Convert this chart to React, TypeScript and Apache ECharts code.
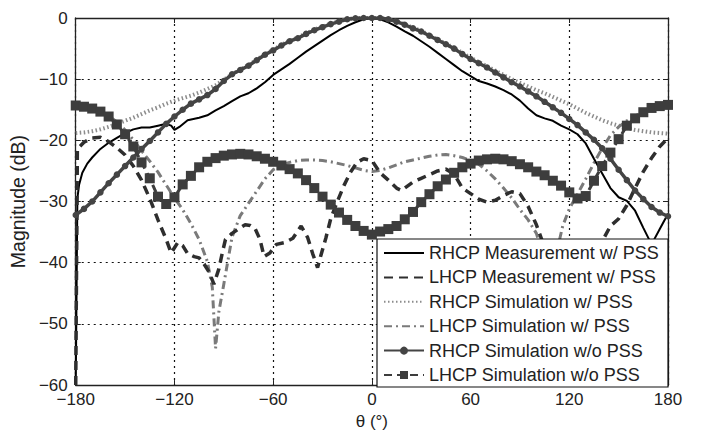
import React, { useEffect, useRef } from "react";
import * as echarts from "echarts";

// ---- data ----
const seriesNames = [
  "RHCP Measurement w/ PSS",
  "LHCP Measurement w/ PSS",
  "RHCP Simulation w/ PSS",
  "LHCP Simulation w/ PSS",
  "RHCP Simulation w/o PSS",
  "LHCP Simulation w/o PSS",
];

const theta5 = [
  -180, -175, -170, -165, -160, -155, -150, -145, -140, -135, -130, -125, -120, -115, -110, -105, -100,
  -95, -90, -85, -80, -75, -70, -65, -60, -55, -50, -45, -40, -35, -30, -25, -20, -15, -10, -5, 0,
  5, 10, 15, 20, 25, 30, 35, 40, 45, 50, 55, 60, 65, 70, 75, 80, 85, 90, 95, 100, 105, 110, 115,
  120, 125, 130, 135, 140, 145, 150, 155, 160, 165, 170, 175, 180,
];

const rhcpMeasTheta = [
  -180, -179, -178, -176, -173, -170, -165, -160, -155, -150, -145, -140, -135, -130, -125, -122, -120,
  -117, -112, -105, -100, -95, -90, -85, -80, -75, -70, -65, -60, -55, -50, -45, -40, -35, -30, -25,
  -20, -15, -10, -5, 0, 5, 10, 15, 20, 25, 30, 35, 40, 45, 50, 55, 60, 65, 70, 75, 80, 85, 90, 95,
  100, 105, 110, 115, 120, 125, 130, 135, 140, 145, 150, 155, 160, 165, 170, 175, 180,
];
const rhcpMeas = [
  -60, -29.5, -27.3, -25.3, -23.8, -22.8, -21.4, -20.4, -19.6, -18.8, -18.2, -17.9, -17.9, -17.6,
  -17.3, -17.6, -18.3, -17.8, -16.7, -16.3, -15.9, -15.1, -14.4, -13.6, -12.8, -12.3, -11.5, -10.5,
  -9.3, -8.4, -7.5, -6.5, -5.5, -4.6, -3.7, -2.8, -2, -1.3, -0.7, -0.2, 0, -0.2, -0.7, -1.4, -2.2,
  -2.9, -3.8, -4.7, -5.7, -6.7, -7.7, -8.7, -9.5, -10.3, -10.7, -11.2, -11.8, -12.5, -13.5, -14.8,
  -15.9, -16.4, -16.8, -17.6, -18.2, -19, -20.5, -23, -25.4, -27.8, -29.3, -29.9, -31.5, -34.3, -37,
  -34.5, -32,
];

const lhcpMeasTheta = [
  -180, -179, -175, -170, -165, -160, -155, -150, -145, -140, -135, -130, -125, -122, -118, -115, -112,
  -108, -105, -102, -99, -96, -93, -91, -89, -85, -80, -77, -74, -71, -68, -65.5, -62, -58, -53, -48,
  -43, -39, -36, -33, -31, -28, -25, -21, -17, -13, -9, -5, 0, 5, 10, 15, 18, 20, 25, 30, 35, 40, 45,
  50, 55, 60, 65, 70, 75, 80, 85, 90, 95, 100, 105, 110, 115, 120, 125, 130, 135, 140, 145, 150, 155,
  160, 165, 170, 175, 179,
];
const lhcpMeas = [
  -60, -21.4, -20.3, -19.6, -19.5, -20.2, -21.2, -22.4, -24.2, -26.5, -29.5, -33, -36.2, -38.4, -36.7,
  -37.2, -38.5, -39, -39.2, -40.2, -41.5, -43.5, -41, -38.5, -36.2, -35.2, -34.3, -33.8, -33.9, -34.4,
  -36.2, -39, -38.4, -37, -36.7, -36, -34, -35.9, -38.5, -40.8, -38.8, -36, -32.8, -30, -27.4, -25.2,
  -23.6, -23, -23.3, -25.3, -26.5, -27.8, -28.2, -27.8, -26.8, -26.2, -25.6, -25, -24.7, -25.5, -27.8,
  -28.7, -29.6, -30.1, -29.8, -29, -28.4, -28.7, -30.8, -33.8, -37.5, -40, -38, -41, -39, -42, -36.5,
  -36.5, -34, -32.8, -30.6, -27.8, -25.1, -22.9, -21, -19.9,
];

const rhcpSimPss = [
  -18.8, -18.7, -18.5, -18.2, -17.8, -17.3, -16.8, -16.3, -15.7, -15.1, -14.6, -14, -13.5, -13.1,
  -12.7, -12.2, -11.6, -11, -10.1, -9.2, -8.4, -7.7, -6.8, -5.9, -5.2, -4.4, -3.7, -3.2, -2.5, -1.9,
  -1.4, -0.9, -0.5, -0.2, 0, 0, 0, 0, -0.2, -0.5, -1, -1.6, -2.1, -2.8, -3.5, -4.2, -4.9, -5.7, -6.5,
  -7.2, -7.9, -8.6, -9.3, -10, -10.6, -11.2, -11.8, -12.3, -12.9, -13.5, -14.1, -14.8, -15.5, -16.1,
  -16.7, -17.2, -17.6, -18, -18.3, -18.5, -18.7, -18.8, -18.9,
];

const lhcpSimPssTheta = [
  -180, -175, -170, -165, -160, -155, -150, -145, -140, -135, -130, -125, -120, -115, -110, -105, -100,
  -97, -95, -93, -90, -85, -80, -75, -70, -65, -60, -55, -50, -45, -40, -35, -30, -25, -20, -15, -10,
  -5, 0, 5, 10, 15, 20, 25, 30, 35, 40, 45, 50, 55, 60, 65, 70, 75, 80, 85, 90, 95, 100, 103, 106,
  108, 110, 113, 116, 120, 125, 130, 135, 140, 145, 150, 155, 160, 165, 170, 175, 180,
];
const lhcpSimPss = [
  -14.2, -14.4, -14.8, -15.3, -16, -17, -18.3, -19.9, -21.7, -23.4, -25.2, -27.3, -29.4, -31.3, -33.6,
  -36.2, -39.8, -44, -54, -48, -43.5, -35.8, -32.3, -30.3, -28.3, -26.3, -24.8, -24, -23.6, -23.3,
  -23.2, -23.2, -23.3, -23.5, -23.8, -24.1, -24.5, -24.9, -25.1, -24.9, -24.5, -24, -23.5, -23.2,
  -22.9, -22.6, -22.4, -22.3, -22.5, -22.8, -23.3, -23.9, -25, -26.3, -27.8, -29.4, -31.3, -33, -35.2,
  -38, -44, -50, -44, -37.5, -34, -31.2, -28.8, -26.3, -23.7, -21.3, -19.2, -17.8, -16.8, -16, -15.4,
  -14.8, -14.4, -14.2,
];

const rhcpSimNoPss = [
  -32.2, -31.2, -30, -28.5, -27, -25.6, -24.2, -22.8, -21.4, -20.1, -18.7, -17.3, -16.1, -15, -14,
  -13.3, -12.6, -11.6, -10.3, -9.2, -8.5, -7.8, -6.9, -6, -5.3, -4.5, -3.8, -3.3, -2.6, -2, -1.5, -1,
  -0.6, -0.2, -0.05, 0, 0, 0, -0.2, -0.6, -1.1, -1.7, -2.2, -2.9, -3.6, -4.3, -5, -5.9, -6.7, -7.4,
  -8.1, -8.9, -9.7, -10.5, -11.2, -12, -12.8, -13.7, -14.6, -15.5, -16.5, -17.5, -18.7, -19.9, -21.3,
  -23, -24.8, -26.5, -28.2, -29.6, -30.9, -31.8, -32.4,
];

const lhcpSimNoPss = [
  -14.3, -14.5, -14.8, -15.3, -16.1, -17.4, -19, -21, -23.6, -26.2, -29.2, -30.4, -29.3, -27.2, -25.8,
  -24.4, -23.5, -22.9, -22.5, -22.3, -22.2, -22.3, -22.6, -23, -23.5, -24.1, -24.7, -25.4, -26.5,
  -27.8, -29.2, -30.5, -31.8, -33, -34, -34.8, -35.4, -34.9, -34.5, -34, -32.9, -31.7, -30.1, -28.8,
  -27.5, -26.4, -25.3, -24.4, -23.8, -23.3, -23.1, -23, -23.1, -23.4, -23.9, -24.4, -25.1, -25.7,
  -26.6, -27.4, -28.5, -29.5, -29.1, -26.6, -24.2, -22, -19.8, -17.6, -16.4, -15.4, -14.7, -14.4,
  -14.2,
];

const xTicks = { min: -180, max: 180, interval: 60 };
const yTicks = { min: -60, max: 0, interval: 10 };

const zip = (xs: number[], ys: number[]) => xs.map((x, i) => [x, ys[i]]);

const FONT = "'Liberation Sans', Arial, Helvetica, sans-serif";
const fmt = (v: number) => (v < 0 ? "\u2212" + Math.abs(v) : String(v));
const NOSYM = "rgba(0,0,0,0)";

export default function App() {
  const ref = useRef<HTMLDivElement>(null);
  useEffect(() => {
    if (!ref.current) return;
    const chart = echarts.init(ref.current, undefined, { renderer: "svg" });
    const splitStyle = { show: true, lineStyle: { color: "#111", type: [2, 4] as any, width: 1.2 } };
    const tick = { show: true, inside: true, length: 5, lineStyle: { color: "#222", width: 1 } };
    const axisLine = { show: true, onZero: false, lineStyle: { color: "#222", width: 1.3 } };
    chart.setOption({
      animation: false,
      backgroundColor: "#fff",
      grid: { left: 74, right: 33, top: 18, bottom: 46, containLabel: false },
      xAxis: [
        {
          type: "value",
          ...xTicks,
          name: "\u03b8 (\u00b0)",
          nameLocation: "middle",
          nameGap: 25,
          nameTextStyle: { fontFamily: FONT, fontSize: 17, color: "#222" },
          axisLine,
          axisTick: tick,
          axisLabel: { fontFamily: FONT, fontSize: 17, color: "#222", margin: 6, formatter: fmt },
          splitLine: splitStyle,
        },
        {
          type: "value",
          position: "top",
          ...xTicks,
          axisLine,
          axisTick: tick,
          axisLabel: { show: false },
          splitLine: { show: false },
        },
      ],
      yAxis: [
        {
          type: "value",
          ...yTicks,
          name: "Magnitude (dB)",
          nameLocation: "middle",
          nameGap: 27,
          nameTextStyle: { fontFamily: FONT, fontSize: 19.5, color: "#222" },
          axisLine,
          axisTick: tick,
          axisLabel: { fontFamily: FONT, fontSize: 17, color: "#222", margin: 8, formatter: fmt },
          splitLine: splitStyle,
        },
        {
          type: "value",
          position: "right",
          ...yTicks,
          axisLine,
          axisTick: tick,
          axisLabel: { show: false },
          splitLine: { show: false },
        },
      ],
      legend: {
        show: true,
        orient: "vertical",
        left: 383,
        top: 244,
        padding: 0,
        itemWidth: 40,
        itemHeight: 10,
        itemGap: 6.4,
        selectedMode: false,
        z: 60,
        textStyle: { fontFamily: FONT, fontSize: 18, color: "#222", lineHeight: 18 },
        data: seriesNames,
      },
      graphic: [
        {
          type: "rect",
          z: 50,
          shape: { x: 377, y: 239, width: 291, height: 148 },
          style: { fill: "#fff", stroke: "#111", lineWidth: 1.2 },
        },
      ],
      series: [
        {
          name: seriesNames[0],
          type: "line",
          symbol: "none",
          data: zip(rhcpMeasTheta, rhcpMeas),
          lineStyle: { color: "#000", width: 2 },
          itemStyle: { color: NOSYM },
          z: 3,
        },
        {
          name: seriesNames[1],
          type: "line",
          symbol: "none",
          data: zip(lhcpMeasTheta, lhcpMeas),
          lineStyle: { color: "#2e2e2e", width: 3.5, type: [9, 6] },
          itemStyle: { color: NOSYM },
          z: 3,
        },
        {
          name: seriesNames[2],
          type: "line",
          symbol: "none",
          data: zip(theta5, rhcpSimPss),
          lineStyle: { color: "#8c8c8c", width: 4, type: [1.5, 2.5] },
          itemStyle: { color: NOSYM },
          z: 2,
        },
        {
          name: seriesNames[3],
          type: "line",
          symbol: "none",
          data: zip(lhcpSimPssTheta, lhcpSimPss),
          lineStyle: { color: "#7a7a7a", width: 3, type: [8, 4, 2, 4] },
          itemStyle: { color: NOSYM },
          z: 2,
        },
        {
          name: seriesNames[4],
          type: "line",
          symbol: "circle",
          symbolSize: 6.5,
          showSymbol: true,
          showAllSymbol: true,
          data: zip(theta5, rhcpSimNoPss),
          lineStyle: { color: "#444", width: 3.5 },
          itemStyle: { color: "#444" },
          z: 4,
        },
        {
          name: seriesNames[5],
          type: "line",
          symbol: "rect",
          symbolSize: 10,
          showSymbol: true,
          showAllSymbol: true,
          data: zip(theta5, lhcpSimNoPss),
          lineStyle: { color: "#3d3d3d", width: 3, type: [8, 5] },
          itemStyle: { color: "#3d3d3d" },
          z: 4,
        },
      ],
    });
    return () => chart.dispose();
  }, []);
  return (
    <div
      ref={ref}
      style={{ position: "fixed", left: 0, top: 0, width: 701, height: 435, background: "#fff" }}
    />
  );
}
